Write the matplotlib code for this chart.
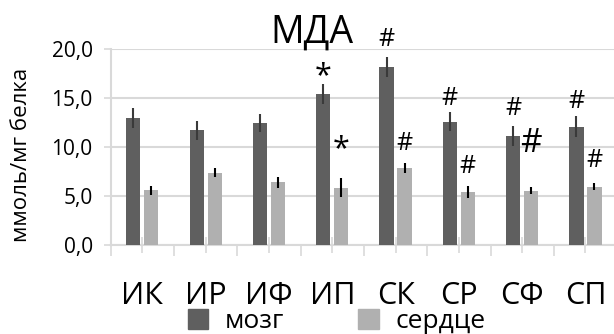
import matplotlib
matplotlib.use("Agg")
import matplotlib.pyplot as plt
from matplotlib.patches import Patch
import numpy as np

plt.rcParams['font.family'] = ['Open Sans', 'DejaVu Sans']

categories = ['ИК', 'ИР', 'ИФ', 'ИП', 'СК', 'СР', 'СФ', 'СП']
brain = [13.0, 11.7, 12.45, 15.4, 18.2, 12.6, 11.15, 12.1]
brain_err = [1.0, 1.0, 0.95, 1.0, 1.0, 1.0, 1.05, 1.05]
heart = [5.6, 7.4, 6.4, 5.85, 7.85, 5.4, 5.55, 5.95]
heart_err = [0.45, 0.45, 0.55, 0.95, 0.5, 0.6, 0.35, 0.35]
brain_marks = ['', '', '', '*', '#', '#', '#', '#']
brain_mark_y = [0, 0, 0, 17.3, 21.0, 15.0, 13.9, 14.7]
heart_marks = ['', '', '', '*', '#', '#', '#', '#']
heart_mark_y = [0, 0, 0, 9.8, 10.4, 8.0, 10.4, 8.6]
heart_mark_size = [0, 0, 0, 22, 18, 18, 24, 18]
brain_mark_size = [0, 0, 0, 22, 18, 18, 18, 18]

title = 'МДА'
ylabel = 'ммоль/мг белка'
legend_labels = ['мозг', 'сердце']

dark = '#5f5f5f'
light = '#b0b0b0'
grid = '#d9d9d9'

fig = plt.figure(figsize=(6.14, 3.34), dpi=100)
ax = fig.add_axes([0.1803, 0.2665, 0.8248, 0.586])

x = np.arange(len(categories))
w = 0.225
off = 0.142
ax.bar(x - off, brain, w, color=dark, zorder=3)
ax.bar(x + off, heart, w, color=light, zorder=3)
ax.errorbar(x - off, brain, yerr=brain_err, fmt='none', ecolor='#3a3a3a',
            elinewidth=1.5, capsize=0, zorder=4)
ax.errorbar(x + off, heart, yerr=heart_err, fmt='none', ecolor='black',
            elinewidth=1.5, capsize=0, zorder=4)

for i in range(len(categories)):
    if brain_marks[i]:
        ax.text(x[i] - off, brain_mark_y[i], brain_marks[i], ha='center', va='center',
                fontsize=brain_mark_size[i], clip_on=False, zorder=5)
    if heart_marks[i]:
        ax.text(x[i] + off, heart_mark_y[i], heart_marks[i], ha='center', va='center',
                fontsize=heart_mark_size[i], clip_on=False, zorder=5)

ax.set_xlim(-0.5, len(categories) - 0.5)
ax.set_ylim(0, 20)
ax.set_yticks([0, 5, 10, 15, 20])
ax.set_yticklabels(['0,0', '5,0', '10,0', '15,0', '20,0'], fontsize=15)
ax.yaxis.grid(True, color=grid, linewidth=1.5, zorder=0)
ax.set_axisbelow(True)

ax.set_xticks(x)
ax.set_xticklabels(categories, fontsize=22)
ax.set_xticks(np.arange(-0.5, len(categories)), minor=True)
ax.tick_params(axis='x', which='major', direction='inout', length=12, width=1.2,
               color=grid, pad=20)
ax.tick_params(axis='x', which='minor', direction='out', length=8, width=1.2, color=grid)
ax.tick_params(axis='y', direction='out', length=5, width=1.2, color=grid, pad=8)

for s in ['top', 'right']:
    ax.spines[s].set_visible(False)
for s in ['left', 'bottom']:
    ax.spines[s].set_color(grid)
    ax.spines[s].set_linewidth(1.5)

ax.set_ylabel(ylabel, fontsize=16)
ax.yaxis.set_label_coords(-0.155, 0.46)

fig.text(0.508, 0.871, title, ha='center', va='baseline', fontsize=27)

handles = [Patch(color=dark), Patch(color=light)]
fig.legend(handles, legend_labels, loc='upper left', bbox_to_anchor=(188 / 614, 1 - 309 / 334),
           ncol=2, frameon=False, fontsize=19, handlelength=0.76, handleheight=0.76,
           handletextpad=0.65, columnspacing=2.8, borderaxespad=0, borderpad=0)

fig.savefig('out.png', dpi=100)
